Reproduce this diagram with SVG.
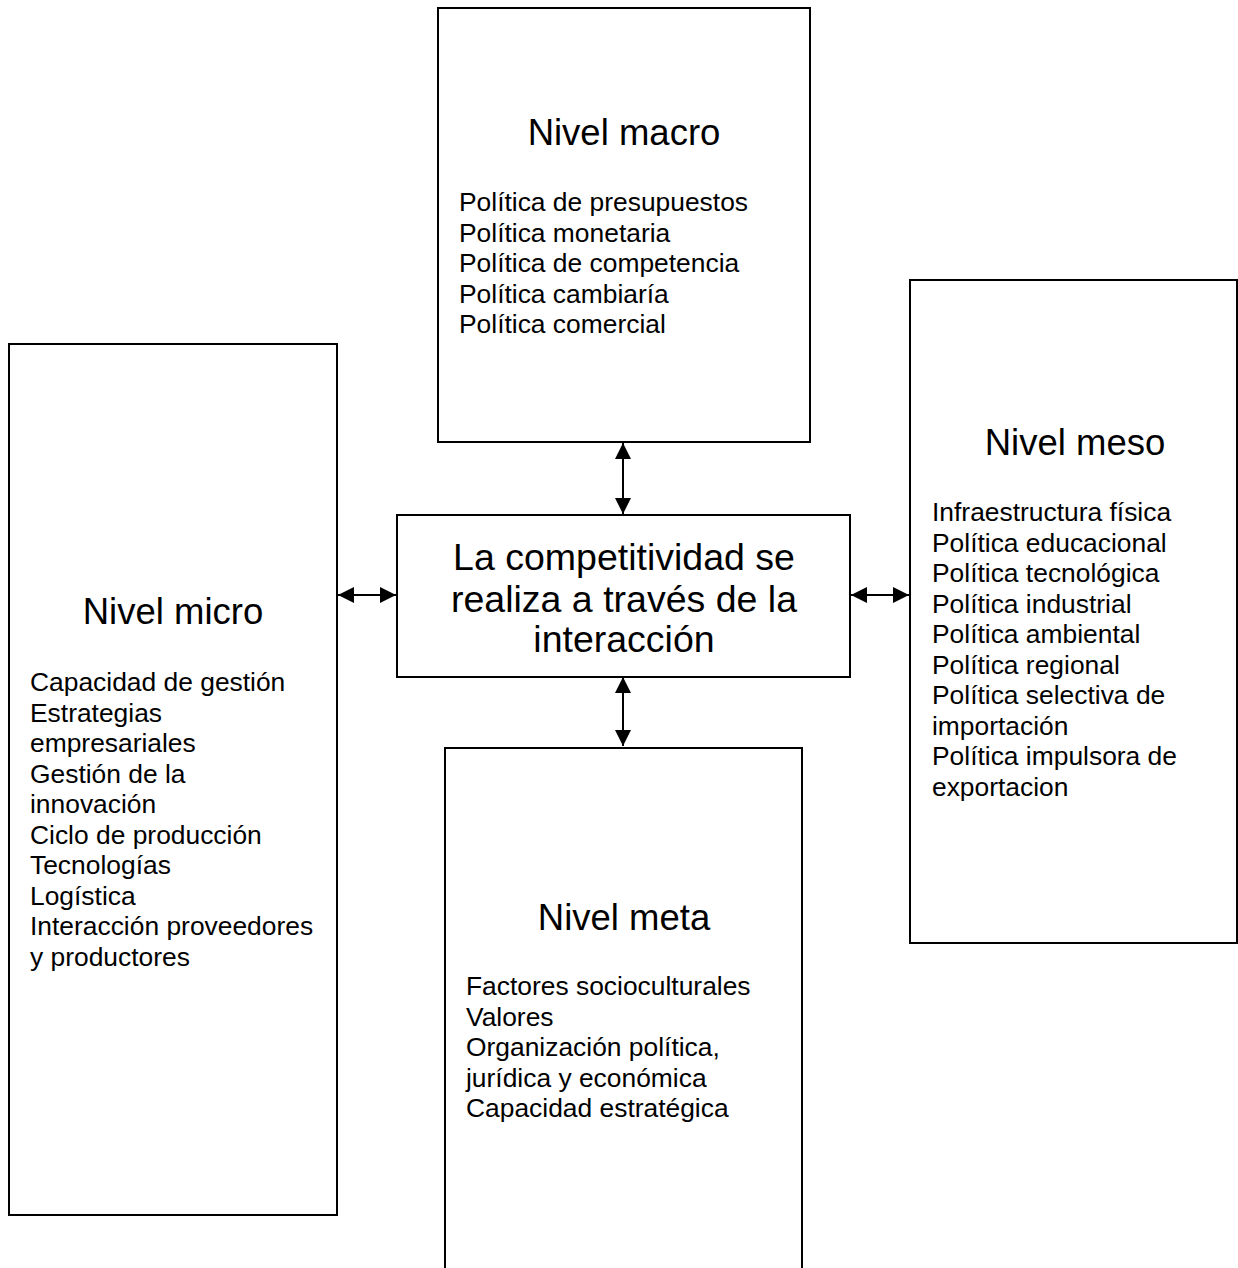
<svg xmlns="http://www.w3.org/2000/svg" width="1238" height="1268" viewBox="0 0 1238 1268">
<style>
.box{fill:#fff;stroke:#000;stroke-width:2}
.t{font-family:"Liberation Sans",Arial,sans-serif;fill:#000}
.title{font-size:36.5px;text-anchor:middle}
.ctr{font-size:37.5px;text-anchor:middle}
.list{font-size:26.4px}
.conn{stroke:#000;stroke-width:2;fill:none;marker-start:url(#ah);marker-end:url(#ah)}
</style>
<defs>
<marker id="ah" viewBox="0 0 16 16" refX="16" refY="8" markerWidth="16" markerHeight="16" markerUnits="userSpaceOnUse" orient="auto-start-reverse">
<path d="M0,0 L16,8 L0,16 z" fill="#000"/>
</marker>
</defs>
<rect width="1238" height="1268" fill="#fff"/>
<g id="connectors">
<line class="conn" x1="623" y1="443" x2="623" y2="514"/>
<line class="conn" x1="623" y1="677" x2="623" y2="746"/>
<line class="conn" x1="338" y1="595" x2="396" y2="595"/>
<line class="conn" x1="851" y1="595" x2="909" y2="595"/>
</g>
<g id="macro">
<rect class="box" x="438" y="8" width="372" height="434"/>
<text class="t title" x="624" y="145">Nivel macro</text>
<text class="t list"><tspan x="459" y="211">Política de presupuestos</tspan><tspan x="459" y="241.5">Política monetaria</tspan><tspan x="459" y="272">Política de competencia</tspan><tspan x="459" y="302.5">Política cambiaría</tspan><tspan x="459" y="333">Política comercial</tspan></text>
</g>
<g id="center">
<rect class="box" x="397" y="515" width="453" height="162"/>
<text class="t ctr"><tspan x="624" y="570">La competitividad se</tspan><tspan x="624" y="611.5">realiza a través de la</tspan><tspan x="624" y="652">interacción</tspan></text>
</g>
<g id="micro">
<rect class="box" x="9" y="344" width="328" height="871"/>
<text class="t title" x="173" y="624">Nivel micro</text>
<text class="t list"><tspan x="30" y="691">Capacidad de gestión</tspan><tspan x="30" y="721.5">Estrategias</tspan><tspan x="30" y="752">empresariales</tspan><tspan x="30" y="782.5">Gestión de la</tspan><tspan x="30" y="813">innovación</tspan><tspan x="30" y="843.5">Ciclo de producción</tspan><tspan x="30" y="874">Tecnologías</tspan><tspan x="30" y="904.5">Logística</tspan><tspan x="30" y="935">Interacción proveedores</tspan><tspan x="30" y="965.5">y productores</tspan></text>
</g>
<g id="meso">
<rect class="box" x="910" y="280" width="327" height="663"/>
<text class="t title" x="1075" y="455">Nivel meso</text>
<text class="t list"><tspan x="932" y="521">Infraestructura física</tspan><tspan x="932" y="551.5">Política educacional</tspan><tspan x="932" y="582">Política tecnológica</tspan><tspan x="932" y="612.5">Política industrial</tspan><tspan x="932" y="643">Política ambiental</tspan><tspan x="932" y="673.5">Política regional</tspan><tspan x="932" y="704">Política selectiva de</tspan><tspan x="932" y="734.5">importación</tspan><tspan x="932" y="765">Política impulsora de</tspan><tspan x="932" y="795.5">exportacion</tspan></text>
</g>
<g id="meta">
<rect class="box" x="445" y="748" width="357" height="540"/>
<text class="t title" x="624" y="930">Nivel meta</text>
<text class="t list"><tspan x="466" y="995">Factores socioculturales</tspan><tspan x="466" y="1025.5">Valores</tspan><tspan x="466" y="1056">Organización política,</tspan><tspan x="466" y="1086.5">jurídica y económica</tspan><tspan x="466" y="1117">Capacidad estratégica</tspan></text>
</g>
</svg>
